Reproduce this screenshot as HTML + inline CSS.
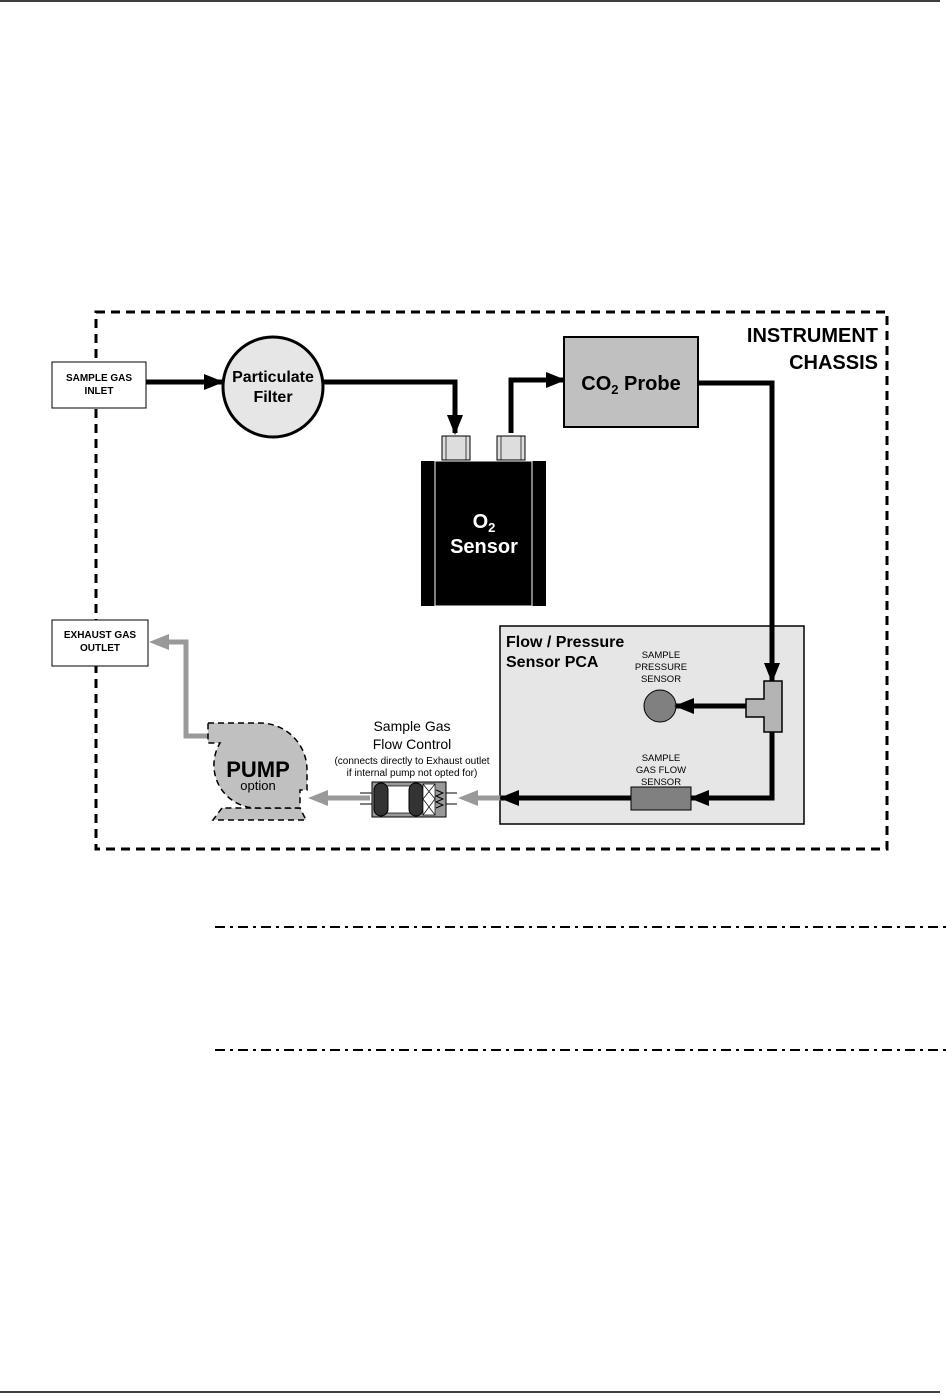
<!DOCTYPE html>
<html><head><meta charset="utf-8"><style>
html,body{margin:0;padding:0;background:#fff;}
svg{display:block;font-family:"Liberation Sans",Arial,sans-serif;}
</style></head><body>
<svg width="946" height="1396" viewBox="0 0 946 1396" xmlns="http://www.w3.org/2000/svg">
<defs>
<marker id="ab" markerWidth="20" markerHeight="16" refX="18" refY="8" orient="auto" markerUnits="userSpaceOnUse" viewBox="0 0 20 16"><path d="M0,0 L20,8 L0,16 z" fill="#000"/></marker>
</defs>
<line x1="0" y1="1" x2="940" y2="1" stroke="#000" stroke-width="1.5"/>
<line x1="0" y1="1392" x2="940" y2="1392" stroke="#000" stroke-width="1.5"/>

<!-- chassis -->
<rect x="96" y="312" width="791" height="537" fill="none" stroke="#000" stroke-width="3" stroke-dasharray="9,6"/>
<text x="878" y="342" font-size="20" font-weight="bold" text-anchor="end">INSTRUMENT</text>
<text x="878" y="369" font-size="20" font-weight="bold" text-anchor="end">CHASSIS</text>

<!-- inlet -->
<rect x="52" y="362" width="94" height="46" fill="#fff" stroke="#000" stroke-width="1"/>
<text x="99" y="381" font-size="10" font-weight="bold" text-anchor="middle">SAMPLE GAS</text>
<text x="99" y="394" font-size="10" font-weight="bold" text-anchor="middle">INLET</text>
<!-- exhaust -->
<rect x="52" y="620" width="96" height="46" fill="#fff" stroke="#000" stroke-width="1"/>
<text x="100" y="638" font-size="10" font-weight="bold" text-anchor="middle">EXHAUST GAS</text>
<text x="100" y="651" font-size="10" font-weight="bold" text-anchor="middle">OUTLET</text>

<!-- filter -->
<circle cx="273" cy="387" r="50" fill="#e6e6e6" stroke="#000" stroke-width="3"/>
<text x="273" y="382" font-size="16" font-weight="bold" text-anchor="middle">Particulate</text>
<text x="273" y="402" font-size="16" font-weight="bold" text-anchor="middle">Filter</text>

<!-- PCA -->
<rect x="500" y="626" width="304" height="198" fill="#e6e6e6" stroke="#000" stroke-width="1.5"/>
<text x="506" y="647" font-size="16" font-weight="bold">Flow / Pressure</text>
<text x="506" y="667" font-size="16" font-weight="bold">Sensor PCA</text>
<g font-size="9.5" text-anchor="middle">
<text x="661" y="658">SAMPLE</text><text x="661" y="670">PRESSURE</text><text x="661" y="682">SENSOR</text>
<text x="661" y="761">SAMPLE</text><text x="661" y="773">GAS FLOW</text><text x="661" y="785">SENSOR</text>
</g>
<circle cx="660" cy="706" r="16" fill="#808080" stroke="#000" stroke-width="1"/>

<!-- black arrows -->
<g stroke="#000" stroke-width="5" fill="none">
<line x1="146" y1="382" x2="222" y2="382" marker-end="url(#ab)"/>
<polyline points="323,382 455,382 455,433" marker-end="url(#ab)"/>
<polyline points="511,433 511,380 564,380" marker-end="url(#ab)"/>
<polyline points="698,383 772,383 772,681" marker-end="url(#ab)"/>
<line x1="746" y1="706" x2="676" y2="706" marker-end="url(#ab)"/>
<polyline points="772,732 772,798 691,798" marker-end="url(#ab)"/>
<line x1="631" y1="798" x2="501" y2="798" marker-end="url(#ab)"/>
</g>
<path d="M764,681 H782 V732 H764 V717 H746 V699 H764 Z" fill="#b4b4b4" stroke="#000" stroke-width="1.5"/>
<rect x="631" y="787" width="60" height="23" fill="#808080" stroke="#000" stroke-width="1"/>

<!-- CO2 probe -->
<rect x="564" y="337" width="134" height="90" fill="#c0c0c0" stroke="#000" stroke-width="2"/>
<text x="631" y="390" font-size="20" font-weight="bold" text-anchor="middle">CO<tspan font-size="13" dy="4">2</tspan><tspan dy="-4"> Probe</tspan></text>

<!-- O2 sensor -->
<rect x="442" y="436" width="28" height="24" fill="#ddd" stroke="#000" stroke-width="1"/>
<rect x="446" y="436" width="20" height="24" fill="none" stroke="#000" stroke-width="0.7"/>
<rect x="497" y="436" width="28" height="24" fill="#ddd" stroke="#000" stroke-width="1"/>
<rect x="501" y="436" width="20" height="24" fill="none" stroke="#000" stroke-width="0.7"/>
<rect x="421" y="461" width="125" height="145" fill="#000"/>
<rect x="435" y="461" width="97" height="145" fill="none" stroke="#fff" stroke-width="1"/>
<text x="484" y="528" font-size="20" font-weight="bold" fill="#fff" text-anchor="middle">O<tspan font-size="13" dy="4">2</tspan></text>
<text x="484" y="553" font-size="20" font-weight="bold" fill="#fff" text-anchor="middle">Sensor</text>

<!-- flow control -->
<text x="412" y="731" font-size="14" text-anchor="middle">Sample Gas</text>
<text x="412" y="749" font-size="14" text-anchor="middle">Flow Control</text>
<text x="412" y="764" font-size="10" text-anchor="middle">(connects directly to Exhaust outlet</text>
<text x="412" y="776" font-size="10" text-anchor="middle">if internal pump not opted for)</text>
<line x1="360" y1="793" x2="372" y2="793" stroke="#000" stroke-width="1"/>
<line x1="360" y1="804" x2="372" y2="804" stroke="#000" stroke-width="1"/>
<line x1="446" y1="793" x2="457" y2="793" stroke="#000" stroke-width="1"/>
<line x1="446" y1="804" x2="457" y2="804" stroke="#000" stroke-width="1"/>
<rect x="372" y="782" width="74" height="35" fill="#999" stroke="#000" stroke-width="1"/>
<rect x="384" y="786" width="36" height="27" fill="#fff" stroke="#000" stroke-width="0.7"/>
<rect x="374" y="783" width="14" height="33" rx="7" fill="#333" stroke="#000"/>
<rect x="409" y="783" width="14" height="33" rx="7" fill="#333" stroke="#000"/>
<rect x="423" y="784" width="12" height="31" fill="#fff" stroke="#000" stroke-width="0.7"/>
<path d="M423,784 L435,799 L423,815 M435,784 L423,799 L435,815" stroke="#000" stroke-width="0.7" fill="none"/>
<path d="M436,790 l7,3 l-7,3 l7,3 l-7,3 l7,3 l-7,3" stroke="#000" stroke-width="1" fill="none"/>

<!-- gray arrows -->
<g stroke="#999" stroke-width="5" fill="none">
<line x1="500" y1="798" x2="474" y2="798"/>
<line x1="370" y1="798" x2="324" y2="798"/>
<polyline points="210,736 186,736 186,642 165,642"/>
</g>
<path d="M458,798 L478,790 L478,806 Z" fill="#999"/>
<path d="M308,798 L328,790 L328,806 Z" fill="#999"/>
<path d="M149,642 L169,634 L169,650 Z" fill="#999"/>

<!-- pump -->
<path d="M222,808 L213,820 L306,820 L300,808 Z" fill="#c0c0c0" stroke="#000" stroke-width="1.5" stroke-dasharray="6,4"/>
<path d="M208,723 L260,723 A47,47 0 0 1 307,770 L307,790 L300,790 L300,808 L255,808 A43,43 0 0 1 220,743 L208,743 Z" fill="#c0c0c0" stroke="#000" stroke-width="1.5" stroke-dasharray="6,4"/>
<text x="258" y="777" font-size="22" font-weight="bold" text-anchor="middle">PUMP</text>
<text x="258" y="790" font-size="13" text-anchor="middle">option</text>

<!-- dash-dot lines -->
<line x1="215" y1="927" x2="946" y2="927" stroke="#000" stroke-width="2" stroke-dasharray="10,5,3,5"/>
<line x1="215" y1="1050" x2="946" y2="1050" stroke="#000" stroke-width="2" stroke-dasharray="10,5,3,5"/>
</svg>
</body></html>
